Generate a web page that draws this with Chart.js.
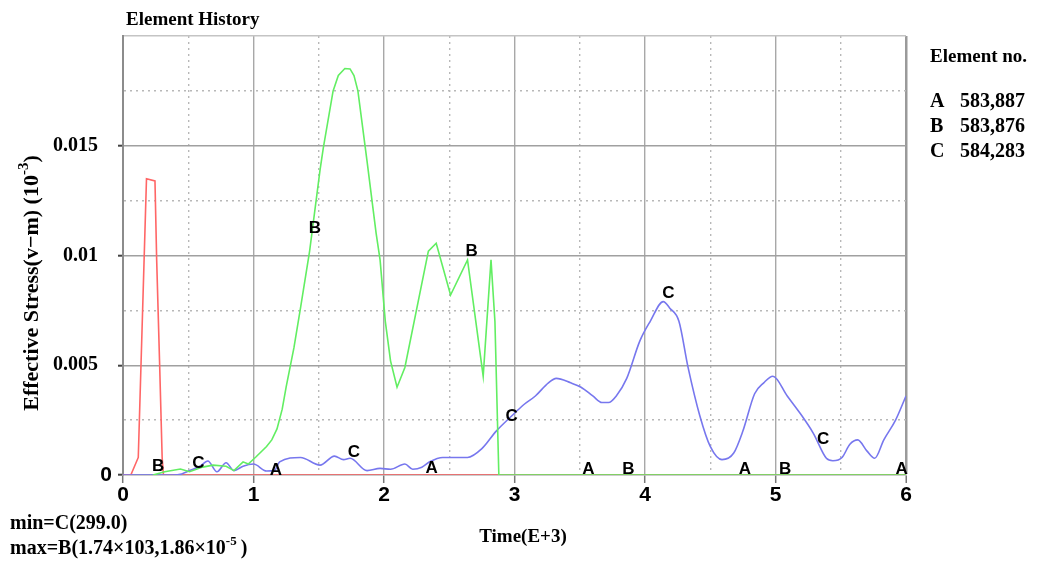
<!DOCTYPE html>
<html>
<head>
<meta charset="utf-8">
<script src="https://cdn.jsdelivr.net/npm/chart.js@4/dist/chart.umd.min.js"></script>
<style>
html,body{margin:0;padding:0;background:#ffffff;}
#wrap{width:1047px;height:561px;position:relative;}
</style>
</head>
<body>
<div id="wrap"><canvas id="c" width="1047" height="561"></canvas></div>
<script>
// ---- data ----
const A_X = [0, 0.06, 0.117, 0.18, 0.245, 0.258, 0.28, 0.30, 0.31, 6];
const A_Y = [0, 0, 0.0008, 0.0135, 0.0134, 0.0098, 0.0052, 0.0008, 0, 0];

const B_X = [0.23, 0.32, 0.44, 0.51, 0.61, 0.69, 0.79, 0.85, 0.92, 0.96, 1.02, 1.10, 1.14, 1.18, 1.22, 1.25, 1.31, 1.36, 1.43, 1.51, 1.535, 1.61, 1.65, 1.70, 1.74, 1.77, 1.80, 1.87, 1.94, 1.97, 2.01, 2.05, 2.10, 2.16, 2.34, 2.40, 2.51, 2.64, 2.76, 2.82, 2.85, 2.88, 6];
const B_Y = [0, 0.00015, 0.00027, 0.00015, 0.00036, 0.00045, 0.0004, 0.0002, 0.0006, 0.0005, 0.00083, 0.0013, 0.0016, 0.0021, 0.0030, 0.0040, 0.0058, 0.0076, 0.0102, 0.0139, 0.0149, 0.0175, 0.0182, 0.01852, 0.0185, 0.0182, 0.0175, 0.0143, 0.011, 0.0098, 0.007, 0.0052, 0.0040, 0.0049, 0.0102, 0.01056, 0.0082, 0.0098, 0.0045, 0.0098, 0.007, 0, 0];

const C_X = [0, 0.38, 0.45, 0.51, 0.59, 0.65, 0.72, 0.79, 0.85, 0.92, 1.0, 1.10, 1.16, 1.20, 1.36, 1.51, 1.62, 1.69, 1.74, 1.87, 1.97, 2.05, 2.16, 2.22, 2.29, 2.35, 2.45, 2.64, 2.75, 2.86, 2.98, 3.07, 3.16, 3.26, 3.32, 3.43, 3.51, 3.60, 3.67, 3.72, 3.78, 3.86, 3.96, 4.04, 4.14, 4.19, 4.26, 4.33, 4.42, 4.50, 4.59, 4.68, 4.75, 4.84, 4.91, 4.98, 5.09, 5.19, 5.29, 5.39, 5.44, 5.51, 5.57, 5.63, 5.70, 5.76, 5.83, 5.92, 6.0];
const C_Y = [0, 0, 0.00005, 0.0002, 0.0004, 0.00064, 0.00015, 0.00056, 0.0002, 0.0004, 0.0005, 0.00018, 0.0002, 0.0006, 0.0008, 0.00045, 0.00086, 0.0007, 0.00076, 0.0002, 0.0003, 0.00026, 0.0005, 0.00026, 0.00035, 0.0006, 0.0008, 0.0008, 0.0012, 0.002, 0.0027, 0.0032, 0.0036, 0.0042, 0.0044, 0.0042, 0.0040, 0.0036, 0.0033, 0.0033, 0.0036, 0.0044, 0.0061, 0.0070, 0.0079, 0.0076, 0.0070, 0.0049, 0.0027, 0.0013, 0.0007, 0.001, 0.002, 0.0037, 0.0042, 0.0045, 0.0036, 0.0028, 0.0019, 0.00076, 0.00065, 0.0008, 0.0014, 0.0016, 0.0011, 0.00076, 0.0016, 0.0025, 0.0036];

// curve letters placed along the curves
const LABEL_TEXT = ['B', 'C', 'A', 'B', 'C', 'A', 'B', 'C', 'A', 'B', 'C', 'A', 'B', 'C', 'A'];
const LABEL_X = [0.27, 0.577, 1.172, 1.471, 1.77, 2.366, 2.672, 2.979, 3.566, 3.872, 4.179, 4.766, 5.073, 5.366, 5.967];
const LABEL_Y = [0.00038, 0.00053, 0.00023, 0.01124, 0.00102, 0.00031, 0.01017, 0.00269, 0.00026, 0.00026, 0.00828, 0.00026, 0.00026, 0.00163, 0.00026];

const X_TICK_LABELS = ['0', '1', '2', '3', '4', '5', '6'];
const Y_TICK_VALUES = [0, 0.005, 0.01, 0.015];
const Y_TICK_LABELS = ['0', '0.005', '0.01', '0.015'];

const ELEMENT_IDS = ['A', 'B', 'C'];
const ELEMENT_NOS = ['583,887', '583,876', '584,283'];

const TITLE = 'Element History';
const LEGEND_TITLE = 'Element no.';
const X_TITLE = 'Time(E+3)';
const Y_TITLE = [{t: 'Effective Stress(v\u2212m) (10'}, {t: '-3', sup: true}, {t: ')'}];
const MIN_TEXT = [{t: 'min=C(299.0)'}];
const MAX_TEXT = [{t: 'max=B(1.74\u00d7103,1.86\u00d710'}, {t: '-5', sup: true}, {t: '\u2009)'}];

// ---- styling ----
const SERIF = '"Liberation Serif","Times New Roman",serif';
const SANS = '"Liberation Sans",Arial,sans-serif';
const NARROW = '"Liberation Sans Narrow","Liberation Sans",Arial,sans-serif';

function pts(xs, ys) { return xs.map((x, i) => ({x: x, y: ys[i]})); }
function near(v, step) { return Math.abs(v / step - Math.round(v / step)) < 1e-6; }

function drawRich(ctx, parts, x, y, size, align) {
  const supSize = Math.round(size * 0.66);
  let total = 0;
  parts.forEach(p => {
    ctx.font = 'bold ' + (p.sup ? supSize : size) + 'px ' + SERIF;
    p.w = ctx.measureText(p.t).width;
    total += p.w;
  });
  let cx = align === 'center' ? x - total / 2 : x;
  ctx.textAlign = 'left';
  ctx.textBaseline = 'middle';
  parts.forEach(p => {
    ctx.font = 'bold ' + (p.sup ? supSize : size) + 'px ' + SERIF;
    ctx.fillText(p.t, cx, p.sup ? y - size * 0.36 : y);
    cx += p.w;
  });
}

const textPlugin = {
  id: 'texts',
  afterDatasetsDraw(chart) {
    const ctx = chart.ctx;
    const xs = chart.scales.x, ys = chart.scales.y;
    ctx.save();
    ctx.fillStyle = '#000';
    ctx.font = 'bold 17px ' + SANS;
    ctx.textAlign = 'center';
    ctx.textBaseline = 'middle';
    LABEL_TEXT.forEach((t, i) => {
      ctx.fillText(t, xs.getPixelForValue(LABEL_X[i]), ys.getPixelForValue(LABEL_Y[i]));
    });
    ctx.restore();
  },
  afterDraw(chart) {
    const ctx = chart.ctx;
    ctx.save();
    ctx.fillStyle = '#000';
    ctx.textBaseline = 'middle';
    ctx.textAlign = 'left';
    ctx.font = 'bold 19px ' + SERIF;
    ctx.fillText(TITLE, 126, 20);
    ctx.font = 'bold 19px ' + SERIF;
    ctx.fillText(LEGEND_TITLE, 930, 57);
    ctx.font = 'bold 20px ' + SERIF;
    ELEMENT_IDS.forEach((id, i) => {
      ctx.fillText(id, 930, 102 + i * 25);
      ctx.fillText(ELEMENT_NOS[i], 960, 102 + i * 25);
    });
    drawRich(ctx, [{t: X_TITLE}], 523, 537, 19, 'center');
    ctx.save();
    ctx.translate(32, 283);
    ctx.rotate(-Math.PI / 2);
    drawRich(ctx, Y_TITLE, 0, 0, 22, 'center');
    ctx.restore();
    drawRich(ctx, MIN_TEXT, 10, 524, 20, 'left');
    drawRich(ctx, MAX_TEXT, 10, 549, 20, 'left');
    ctx.restore();
  }
};

new Chart(document.getElementById('c'), {
  type: 'line',
  data: {
    datasets: [
      {label: 'B', data: pts(B_X, B_Y), borderColor: '#62ee62', borderWidth: 1.6, pointRadius: 0, tension: 0, order: 1},
      {label: 'C', data: pts(C_X, C_Y), borderColor: '#7777ee', borderWidth: 1.6, pointRadius: 0, cubicInterpolationMode: 'monotone', order: 2},
      {label: 'A', data: pts(A_X, A_Y), borderColor: '#ff6666', borderWidth: 1.6, pointRadius: 0, tension: 0, order: 3}
    ]
  },
  options: {
    responsive: false,
    animation: false,
    events: [],
    layout: {padding: {top: 36, right: 141, left: 0, bottom: 0}},
    plugins: {legend: {display: false}, tooltip: {enabled: false}, title: {display: false}},
    scales: {
      x: {
        type: 'linear', min: 0, max: 6,
        afterFit: s => { s.height = 86; },
        ticks: {
          stepSize: 0.5, autoSkip: false, maxRotation: 0, padding: 0, color: '#000',
          font: {family: NARROW, size: 21, weight: 'bold'},
          callback: v => near(v, 1) ? X_TICK_LABELS[Math.round(v)] : ''
        },
        grid: {
          color: ctx => {
            const v = ctx.tick ? ctx.tick.value : 0;
            if (Math.abs(v) < 1e-9) return 'rgba(0,0,0,0)';
            if (Math.abs(v - 6) < 1e-9) return '#9a9a9a';
            return near(v, 1) ? '#a8a8a8' : '#b8b8b8';
          },
          lineWidth: ctx => {
            const v = ctx.tick ? ctx.tick.value : 0;
            if (Math.abs(v - 6) < 1e-9) return 2.5;
            return 1.4;
          },
          tickLength: 8,
          tickWidth: 1.5,
          tickColor: ctx => (ctx.tick && near(ctx.tick.value, 1)) ? '#777' : 'rgba(0,0,0,0)'
        },
        border: {
          color: '#999', width: 1.5,
          dash: ctx => (ctx.tick && !near(ctx.tick.value, 1)) ? [2, 4] : []
        }
      },
      y: {
        type: 'linear', min: 0, max: 0.02,
        afterFit: s => { s.width = 123; },
        ticks: {
          stepSize: 0.0025, autoSkip: false, padding: 6, color: '#000',
          font: ctx => (ctx.tick && Math.abs(ctx.tick.value) < 1e-9)
            ? {family: NARROW, size: 21, weight: 'bold'}
            : {family: SERIF, size: 20, weight: 'bold'},
          callback: v => {
            const i = Y_TICK_VALUES.findIndex(t => Math.abs(t - v) < 1e-9);
            if (i < 0) return '';
            return i === 0 ? Y_TICK_LABELS[i] : Y_TICK_LABELS[i] + '\u2002\u2009';
          }
        },
        grid: {
          color: ctx => {
            const v = ctx.tick ? ctx.tick.value : 0;
            if (Math.abs(v) < 1e-9) return 'rgba(0,0,0,0)';
            if (Math.abs(v - 0.02) < 1e-9) return '#c4c4c4';
            return near(v, 0.005) ? '#a0a0a0' : '#b8b8b8';
          },
          lineWidth: 1.4,
          tickLength: 5,
          tickWidth: 2,
          tickColor: ctx => (ctx.tick && near(ctx.tick.value, 0.005) && ctx.tick.value < 0.019) ? '#444' : 'rgba(0,0,0,0)'
        },
        border: {
          color: '#8c8c8c', width: 2,
          dash: ctx => (ctx.tick && !near(ctx.tick.value, 0.005)) ? [2, 4] : []
        }
      }
    }
  },
  plugins: [textPlugin]
});
</script>
</body>
</html>
